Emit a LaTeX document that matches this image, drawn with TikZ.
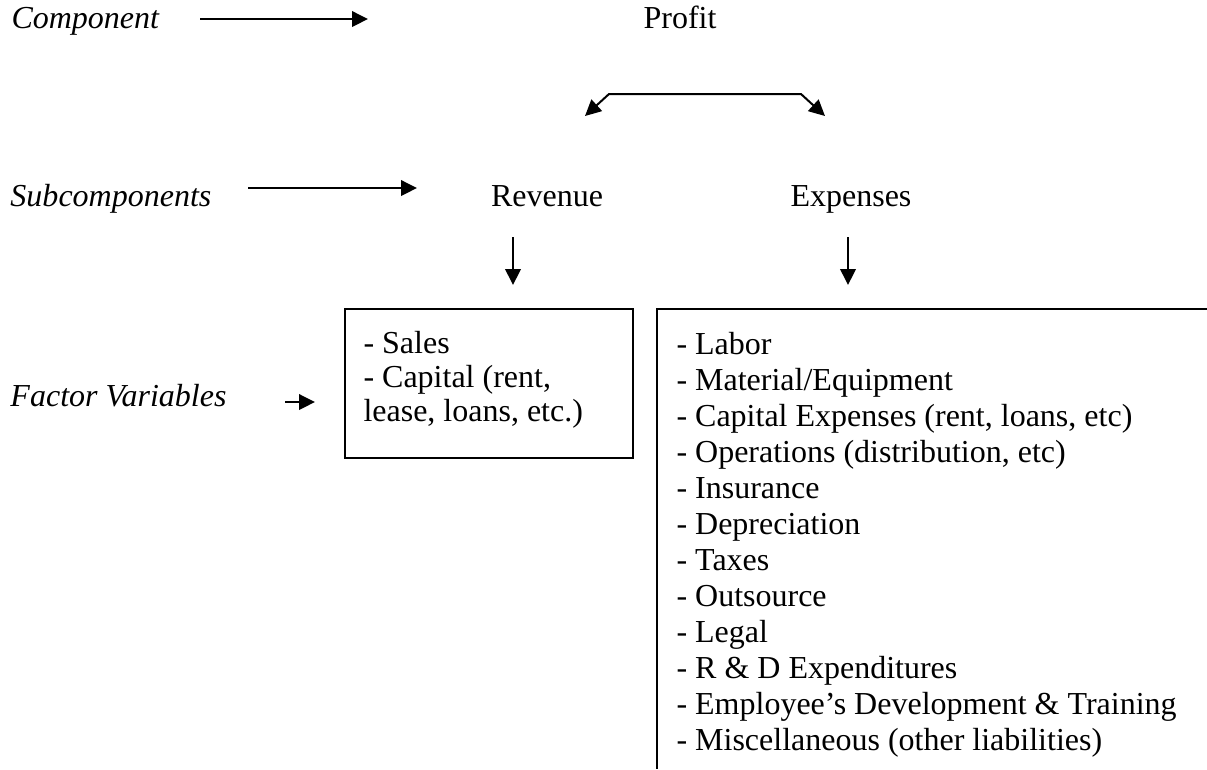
\documentclass[tikz,border=0pt]{standalone}
\usepackage{fontspec}
\setmainfont{Liberation Serif}
\usetikzlibrary{arrows.meta}
\begin{document}
\begin{tikzpicture}[x=0.4pt,y=-0.4pt,
  tip/.tip={Triangle[length=6.4pt,width=6.2pt]},
  lbl/.style={inner sep=0pt,anchor=base west,font=\fontsize{12.8}{14}\selectfont},
  word/.style={inner sep=0pt,anchor=base,font=\fontsize{12.8}{14}\selectfont},
  list/.style={inner sep=0pt,anchor=base west,align=left},
  link/.style={line width=0.8pt,-tip},
  frame/.style={line width=0.8pt}]
\useasboundingbox (0,0) rectangle (1207,769);

% row labels
\node[lbl] (comp) at (11,28) {\itshape Component};
\node[lbl] (subc) at (10,206) {\itshape Subcomponents};
\node[lbl] (fact) at (10,406) {\itshape Factor Variables};

% hierarchy
\node[word] (profit) at (680,28) {Profit};
\node[word] (rev) at (547,206) {Revenue};
\node[word] (exp) at (851,206) {Expenses};

% arrow end points
\coordinate (c1) at (200,19);  \coordinate (c2) at (368,19);
\coordinate (s1) at (248,188); \coordinate (s2) at (417,188);
\coordinate (f1) at (285,402); \coordinate (f2) at (315,402);
\coordinate (pl) at (609,94);  \coordinate (pr) at (801,94);
\coordinate (tl) at (585,116); \coordinate (tr) at (825,116);
\coordinate (r1) at (513,237); \coordinate (r2) at (513,285);
\coordinate (e1) at (848,237); \coordinate (e2) at (848,285);

\draw[link] (c1) -- (c2);
\draw[link] (s1) -- (s2);
\draw[link] (f1) -- (f2);
\draw[line width=0.8pt,tip-tip] (tl) -- (pl) -- (pr) -- (tr);
\draw[link] (r1) -- (r2);
\draw[link] (e1) -- (e2);

% factor variable boxes
\coordinate (bl1) at (345,309); \coordinate (bl2) at (633,458);
\draw[frame] (bl1) rectangle (bl2);
\coordinate (br0) at (1207,309); \coordinate (br1) at (657,309); \coordinate (br2) at (657,769);
\draw[frame] (br0) -- (br1) -- (br2);

% lists (anchored at the baseline of their last line)
\node[list,font=\fontsize{12.8}{13.6}\selectfont] (revlist) at (363,421)
  {- Sales\\- Capital (rent,\\lease, loans, etc.)};
\node[list,font=\fontsize{12.8}{14.4}\selectfont] (explist) at (676,750)
  {- Labor\\- Material/Equipment\\- Capital Expenses (rent, loans, etc)\\- Operations (distribution, etc)\\- Insurance\\- Depreciation\\- Taxes\\- Outsource\\- Legal\\- R \& D Expenditures\\- Employee’s Development \& Training\\- Miscellaneous (other liabilities)};
\end{tikzpicture}
\end{document}
